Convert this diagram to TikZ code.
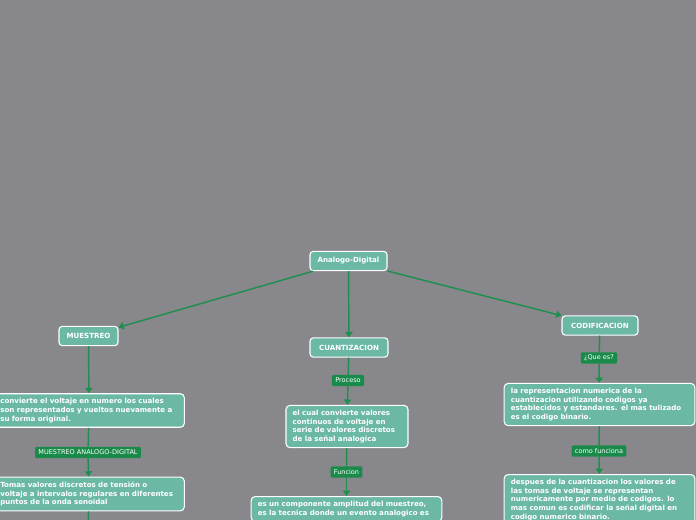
\documentclass[tikz,border=0pt]{standalone}
\usepackage{fontspec}
\setsansfont{DejaVu Sans}
\usetikzlibrary{positioning, arrows.meta}
\definecolor{bggray}{HTML}{88888C}
\definecolor{boxteal}{HTML}{6BB9A5}
\definecolor{taggreen}{HTML}{1A8A4A}
\definecolor{linegreen}{HTML}{1F8F50}
\begin{document}
\begin{tikzpicture}[
  x=0.75pt, y=-0.75pt,
  head/.style={rectangle, rounded corners=2.5pt, draw=white, line width=0.8pt, fill=boxteal, text=white, font=\sffamily\bfseries\fontsize{5.3}{6}\selectfont, inner sep=0pt, minimum height=14.5pt},
  info/.style={rectangle, rounded corners=3pt, draw=white, line width=0.8pt, fill=boxteal, text=white, font=\sffamily\bfseries\fontsize{5.3}{6.5}\selectfont, align=left, inner xsep=5pt, inner ysep=3.5pt},
  tag/.style={rectangle, rounded corners=1pt, fill=taggreen, text=white, font=\sffamily\fontsize{4.9}{5.5}\selectfont, inner xsep=2.5pt, inner ysep=0pt, minimum height=8.5pt},
  arr/.style={-{Triangle[length=4pt, width=5.5pt]}, linegreen, line width=1.1pt},
  lin/.style={linegreen, line width=1.1pt}
]
\useasboundingbox (0,0) rectangle (696,520);
\fill[bggray] (0,0) rectangle (696,520);
\clip (0,0) rectangle (696,520);

% --- root ---
\node[head, minimum width=57.75pt] (ad) at (348.5,261) {Analogo-Digital};

% --- MUESTREO (left column) ---
\node[head, minimum width=44.25pt] (mue) at (88.5,336) {MUESTREO};
\node[info, text width=133pt] (m1) at (89,410.5) {convierte el voltaje en numero los cuales\\son representados y vueltos nuevamente a\\su forma original.};
\node[tag] (tm) at (88,452.5) {MUESTREO ANALOGO-DIGITAL};
\node[info, text width=133pt] (m2) at (89,494) {Tomas valores discretos de tensión o\\voltaje a intervalos regulares en diferentes\\puntos de la onda senoidal};
\coordinate (mend) at (88,530);

% --- CUANTIZACION (middle column) ---
\node[head, minimum width=58.5pt] (cua) at (349,347.5) {CUANTIZACION};
\node[tag] (tp) at (348,380.5) {Proceso};
\node[info, text width=81.5pt] (c1) at (347,426.5) {el cual convierte valores\\continuos de voltaje en\\serie de valores discretos\\de la señal analogica};
\node[tag] (tf) at (346.5,472) {Funcion};
\node[info, text width=133pt, anchor=north] (c2) at (346.5,496) {es un componente amplitud del muestreo,\\es la tecnica donde un evento analogico es};

% --- CODIFICACION (right column) ---
\node[head, minimum width=57pt] (cod) at (600,325.5) {CODIFICACION};
\node[tag] (tq) at (599,358) {¿Que es?};
\node[info, text width=133pt] (d1) at (599.5,404.5) {la representacion numerica de la\\cuantizacion utilizando codigos ya\\establecidos y estandares. el mas tulizado\\es el codigo binario.};
\node[tag] (tc) at (599,451) {como funciona};
\node[info, text width=133pt, anchor=north] (d2) at (599.5,474) {despues de la cuantizacion los valores de\\las tomas de voltaje se representan\\numericamente por medio de codigos. lo\\mas comun es codificar la señal digital en\\codigo numerico binario.};

% --- connectors ---
\draw[arr] (ad) -- (mue);
\draw[arr] (ad) -- (cua);
\draw[arr] (ad) -- (cod);
\draw[arr] (mue) -- (m1);
\draw[lin] (m1) -- (tm);
\draw[arr] (tm) -- (m2);
\draw[lin] (m2) -- (mend);
\draw[lin] (cua) -- (tp);
\draw[arr] (tp) -- (c1);
\draw[lin] (c1) -- (tf);
\draw[arr] (tf) -- (c2);
\draw[lin] (cod) -- (tq);
\draw[arr] (tq) -- (d1);
\draw[lin] (d1) -- (tc);
\draw[arr] (tc) -- (d2);
\end{tikzpicture}
\end{document}
